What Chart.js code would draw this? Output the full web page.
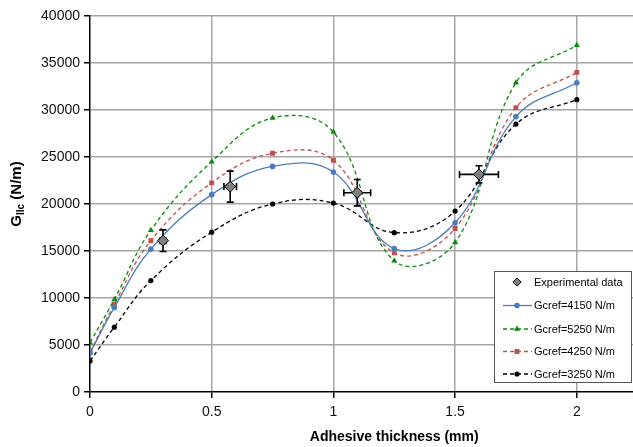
<!DOCTYPE html>
<html><head><meta charset="utf-8">
<script src="https://cdn.jsdelivr.net/npm/chart.js@4/dist/chart.umd.min.js"></script>
<style>html,body{margin:0;padding:0;background:#fff;overflow:hidden;width:633px;height:447px}#c{display:block}</style>
</head><body><canvas id="c" width="705" height="447"></canvas>
<script>
const thickness=[0,0.1,0.25,0.5,0.75,1,1.25,1.5,1.75,2];
const g4150=[4150,9000,15200,21000,24000,23400,15250,18000,29300,32900];
const g5250=[5250,9850,17200,24500,29150,27650,13950,15900,32900,36900];
const g4250=[4250,9350,16100,22250,25400,24650,14800,17400,30250,34000];
const g3250=[3300,6900,11850,17000,20000,20100,16950,19250,28500,31100];
const expX=[0.30,0.576,1.098,1.598];
const expY=[16100,21850,21200,23150];
const expXErr=[0.012,0.026,0.055,0.08];
const expYErr=[1150,1650,1400,920];
const seriesLabels=['Experimental data','Gcref=4150 N/m','Gcref=5250 N/m','Gcref=4250 N/m','Gcref=3250 N/m'];
const xTitle='Adhesive thickness (mm)';

const FONT='"Liberation Sans", Arial, sans-serif';
const toXY=(xs,ys)=>xs.map((x,i)=>({x:x,y:ys[i]}));

const styles=[
 {color:'#000',fill:'#7f7f7f',style:'rectRot',r:5.5,dash:[],line:false},
 {color:'#4a7ebb',fill:'#4a7ebb',style:'circle',r:2.8,dash:[],line:true},
 {color:'#0a8a0a',fill:'#0a8a0a',style:'triangle',r:3.5,dash:[4,3],line:true},
 {color:'#c0504d',fill:'#c0504d',style:'rect',r:3.5,dash:[4,3],line:true},
 {color:'#000',fill:'#000',style:'circle',r:2.6,dash:[4,3],line:true}
];
const seriesData=[toXY(expX,expY),toXY(thickness,g4150),toXY(thickness,g5250),toXY(thickness,g4250),toXY(thickness,g3250)];

const datasets=seriesData.map((d,i)=>({
  label:seriesLabels[i],
  data:d,
  showLine:styles[i].line,
  borderColor:styles[i].color,
  backgroundColor:styles[i].fill,
  pointBackgroundColor:styles[i].fill,
  pointBorderColor:styles[i].color,
  pointBorderWidth:i===0?1:0,
  pointStyle:styles[i].style,
  pointRadius:styles[i].r,
  borderWidth:1.3,
  borderDash:styles[i].dash,
  tension:0.4,
  fill:false
}));

const errorBars={
  id:'errorBars',
  beforeDatasetDraw(chart,args){
    if(args.index!==0)return;
    const ctx=chart.ctx,xs=chart.scales.x,ys=chart.scales.y;
    ctx.save();ctx.strokeStyle='#000';ctx.lineWidth=1.6;ctx.setLineDash([]);
    for(let i=0;i<expX.length;i++){
      const cx=xs.getPixelForValue(expX[i]),cy=ys.getPixelForValue(expY[i]);
      const x1=xs.getPixelForValue(expX[i]-expXErr[i]),x2=xs.getPixelForValue(expX[i]+expXErr[i]);
      const y1=ys.getPixelForValue(expY[i]+expYErr[i]),y2=ys.getPixelForValue(expY[i]-expYErr[i]);
      const c=3.5;
      ctx.beginPath();
      ctx.moveTo(x1,cy);ctx.lineTo(x2,cy);
      ctx.moveTo(x1,cy-c);ctx.lineTo(x1,cy+c);
      ctx.moveTo(x2,cy-c);ctx.lineTo(x2,cy+c);
      ctx.moveTo(cx,y1);ctx.lineTo(cx,y2);
      ctx.moveTo(cx-c,y1);ctx.lineTo(cx+c,y1);
      ctx.moveTo(cx-c,y2);ctx.lineTo(cx+c,y2);
      ctx.stroke();
    }
    ctx.restore();
  }
};

function drawMarker(ctx,st,x,y,scale){
  ctx.save();
  Chart.helpers.drawPoint(ctx,{pointStyle:st.style,radius:st.r*scale,borderWidth:st===styles[0]?1:0},x,y);
  ctx.restore();
}

const extras={
  id:'extras',
  afterDraw(chart){
    const ctx=chart.ctx,a=chart.chartArea;
    ctx.save();
    ctx.fillStyle='#000';ctx.font='bold 14px '+FONT;ctx.textAlign='center';ctx.textBaseline='middle';
    ctx.fillText(xTitle,(a.left+a.right)/2,437);
    ctx.translate(16,194);ctx.rotate(-Math.PI/2);
    const f1='bold 15px '+FONT,f2='bold 10px '+FONT;
    ctx.font=f1;const wG=ctx.measureText('G').width,wR=ctx.measureText(' (N/m)').width;
    ctx.font=f2;const wS=ctx.measureText('IIc').width;
    let x=-(wG+wS+wR)/2;
    ctx.textAlign='left';ctx.textBaseline='alphabetic';
    ctx.font=f1;ctx.fillText('G',x,5);x+=wG;
    ctx.font=f2;ctx.fillText('IIc',x,8);x+=wS;
    ctx.font=f1;ctx.fillText(' (N/m)',x,5);
    ctx.restore();
    ctx.save();
    const bx=494,by=271,bw=138,bh=112;
    ctx.fillStyle='#fff';ctx.fillRect(bx,by,bw,bh);
    ctx.strokeStyle='#555';ctx.lineWidth=1;ctx.strokeRect(bx+0.5,by+0.5,bw-1,bh-1);
    const ys=[282,305.5,329,351.5,374];
    ctx.font='11px '+FONT;ctx.textBaseline='middle';ctx.textAlign='left';
    for(let i=0;i<seriesLabels.length;i++){
      const st=styles[i],y=ys[i];
      if(st.line){
        ctx.strokeStyle=st.color;ctx.lineWidth=1.3;ctx.setLineDash(st.dash);
        ctx.beginPath();ctx.moveTo(503,y);ctx.lineTo(532,y);ctx.stroke();
        ctx.setLineDash([]);
      }
      ctx.fillStyle=st.fill;ctx.strokeStyle=st.color;ctx.lineWidth=1;
      drawMarker(ctx,st,517,y,i===0?0.75:1);
      ctx.fillStyle='#000';
      ctx.fillText(seriesLabels[i],534,y+0.5);
    }
    ctx.restore();
  }
};

new Chart(document.getElementById('c'),{
  type:'scatter',
  data:{datasets:datasets},
  plugins:[errorBars,extras],
  options:{
    responsive:false,animation:false,devicePixelRatio:1,
    layout:{padding:{top:16,right:6,left:0,bottom:0}},
    plugins:{legend:{display:false},tooltip:{enabled:false}},
    scales:{
      x:{type:'linear',min:0,max:2.5,
        afterFit(s){s.height=55;},
        ticks:{stepSize:0.5,maxRotation:0,padding:6,color:'#111',font:{family:FONT,size:14},
          callback:v=>v>2?'':String(v)},
        grid:{color:c=>c.tick&&c.tick.value===0?'rgba(0,0,0,0)':'#a6a6a6',lineWidth:1.5,tickLength:6,tickColor:'#000'},
        border:{color:'#000',width:1.5}
      },
      y:{min:0,max:40000,
        afterFit(s){s.width=90;},
        ticks:{stepSize:5000,padding:4,color:'#111',font:{family:FONT,size:14},callback:v=>String(v)},
        grid:{color:c=>c.tick&&c.tick.value===0?'rgba(0,0,0,0)':'#a6a6a6',lineWidth:1.5,tickLength:6,tickColor:'#000'},
        border:{color:'#000',width:1.5}
      }
    }
  }
});
</script>
</body></html>
